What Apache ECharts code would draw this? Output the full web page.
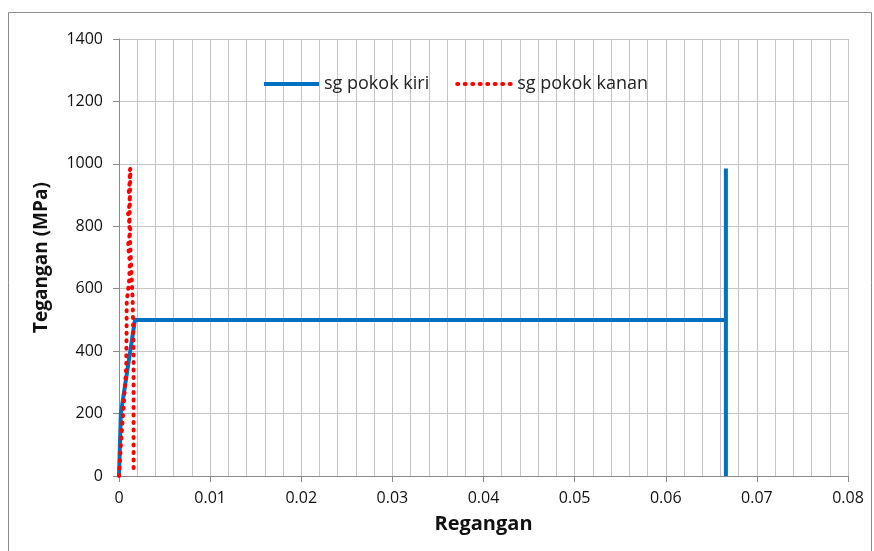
<!DOCTYPE html>
<html>
<head>
<meta charset="utf-8">
<script src="https://cdn.jsdelivr.net/npm/echarts@6/dist/echarts.min.js"></script>
<style>
  html, body { margin: 0; padding: 0; background: #fff; }
  #chart { width: 874px; height: 551px; }
</style>
</head>
<body>
<div id="chart"></div>
<script>
// sg pokok kiri (blue, solid)
const kiriStrain = [0, 0.0002, 0.00175, 0.0666, 0.0666, 0.0666];
const kiriStress = [0, 200, 500, 500, 985, 0];

// sg pokok kanan (red, dotted)
const kananStrain = [0, 0.0002, 0.00045, 0.0008, 0.00085, 0.0011, 0.0012, 0.001, 0.00125, 0.001, 0.0012, 0.00105, 0.00125, 0.0011, 0.00125, 0.00115, 0.0015, 0.0016, 0.0016, 0.0016];
const kananStress = [0, 100, 200, 350, 560, 620, 680, 740, 790, 840, 880, 920, 950, 970, 985, 800, 560, 400, 200, 18];

const seriesNames = ['sg pokok kiri', 'sg pokok kanan'];
const xMin = 0, xMax = 0.08, xStep = 0.01;
const yMin = 0, yMax = 1400, yStep = 200;

const chart = echarts.init(document.getElementById('chart'));

const gridColor = '#c4c4c4';
const axisColor = '#8a8a8a';
const font = 'Open Sans';

const option = {
    animation: false,
    textStyle: { fontFamily: font },
    graphic: [
        {
            type: 'rect',
            shape: { x: 8.5, y: 12.5, width: 863, height: 560 },
            style: { fill: 'none', stroke: '#8c8c8c', lineWidth: 1 },
            z: -1
        }
    ],
    grid: { left: 119, right: 26, top: 39, bottom: 75 },
    legend: {
        left: 257,
        top: 70,
        itemWidth: 55,
        itemHeight: 14,
        itemGap: 26,
        itemStyle: { opacity: 0 },
        lineStyle: { width: 4 },
        textStyle: { fontSize: 18, color: '#222', fontFamily: font },
        data: seriesNames
    },
    xAxis: {
        type: 'value',
        min: xMin,
        max: xMax,
        interval: xStep,
        name: 'Regangan',
        nameLocation: 'middle',
        nameGap: 38,
        nameTextStyle: { fontSize: 20, fontWeight: 'bold', color: '#111', fontFamily: font },
        axisLine: { show: true, lineStyle: { color: axisColor, width: 1 } },
        axisTick: { show: true, length: 6, lineStyle: { color: axisColor } },
        axisLabel: {
            fontSize: 16,
            color: '#111',
            margin: 14,
            formatter: v => (v === 0 ? '0' : v.toFixed(2))
        },
        splitLine: { show: true, lineStyle: { color: gridColor, width: 1 } },
        minorTick: { show: false, splitNumber: 5 },
        minorSplitLine: { show: true, lineStyle: { color: gridColor, width: 1 } }
    },
    yAxis: {
        type: 'value',
        min: yMin,
        max: yMax,
        interval: yStep,
        name: 'Tegangan (MPa)',
        nameLocation: 'middle',
        nameGap: 68,
        nameTextStyle: { fontSize: 19, fontWeight: 'bold', color: '#111', fontFamily: font },
        axisLine: { show: true, lineStyle: { color: axisColor, width: 1 } },
        axisTick: { show: true, length: 6, lineStyle: { color: axisColor } },
        axisLabel: { fontSize: 16, color: '#111', margin: 16, formatter: v => String(v) },
        splitLine: { show: true, lineStyle: { color: gridColor, width: 1 } }
    },
    series: [
        {
            name: seriesNames[0],
            type: 'line',
            showSymbol: false,
            symbol: 'none',
            color: '#0070c0',
            lineStyle: { width: 4, color: '#0070c0' },
            data: kiriStrain.map((x, i) => [x, kiriStress[i]]),
            z: 3
        },
        {
            name: seriesNames[1],
            type: 'line',
            showSymbol: false,
            symbol: 'none',
            color: '#ff0000',
            lineStyle: { width: 4, color: '#ff0000', type: [1, 6.5], cap: 'round' },
            data: kananStrain.map((x, i) => [x, kananStress[i]]),
            z: 4
        }
    ]
};

chart.setOption(option);
window.addEventListener('resize', () => {
    chart.resize();
});
</script>
</body>
</html>
